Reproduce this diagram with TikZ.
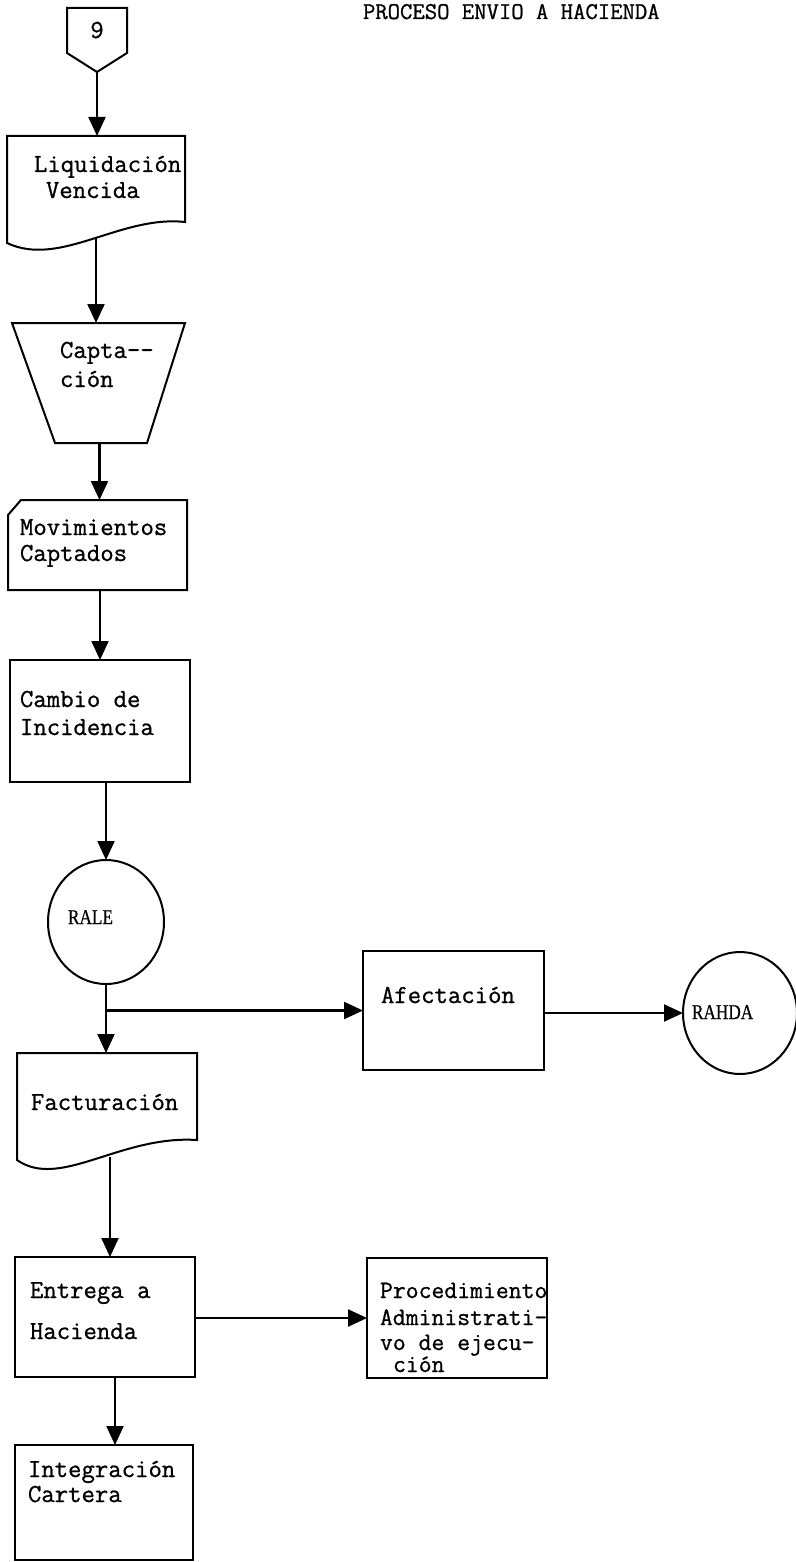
\documentclass[tikz,border=0pt]{standalone}
\usepackage{fontspec}
\usetikzlibrary{arrows.meta,shapes.geometric}
\newfontfamily\tw{Latin Modern Mono}[FakeBold=0.9]
\newfontfamily\sr{Liberation Serif}[FakeBold=0.6]
\tikzset{
  shp/.style={draw=black, line width=2pt, line join=miter},
  hidden/.style={rectangle, inner sep=0pt, outer sep=0pt},
  boxnode/.style={rectangle, draw=black, line width=2pt, inner sep=0pt, outer sep=0pt},
  ovalnode/.style={ellipse, draw=black, line width=2pt, inner sep=0pt, outer sep=0pt},
  txt/.style={font=\tw\fontsize{26pt}{28pt}\selectfont, anchor=base west, inner sep=0pt, outer sep=0pt},
  smalltxt/.style={font=\tw\fontsize{25pt}{28pt}\selectfont, anchor=base west, inner sep=0pt, outer sep=0pt},
  sertxt/.style={font=\sr\fontsize{21pt}{22pt}\selectfont, anchor=base west, inner sep=0pt, outer sep=0pt, xscale=0.82},
  flow/.style={draw=black, line width=2.2pt, -{Triangle[length=19pt,width=17pt]}},
}
\begin{document}
\begin{tikzpicture}[x=1pt,y=-1pt]
\useasboundingbox (0,0) rectangle (795,1562);
\fill[white] (0,0) rectangle (795,1562);

% title
\node[txt, font=\tw\fontsize{24pt}{26pt}\selectfont] (title) at (363,19) {PROCESO ENVIO A HACIENDA};

% off-page connector 9
\node[hidden, minimum width=60pt, minimum height=64pt] (c9) at (97,40) {};
\draw[shp] (c9.north west) -- (c9.north east) -- ([yshift=19pt]c9.south east) -- (c9.south) -- ([yshift=19pt]c9.south west) -- cycle;
\node[txt, anchor=base] (t9) at (97,38) {9};

% Liquidacion Vencida (document)
\node[hidden, minimum width=178pt, minimum height=102pt] (liq) at (96,187) {};
\draw[shp] ([yshift=-5pt]liq.south west) -- (liq.north west) -- (liq.north east) -- ([yshift=16pt]liq.south east)
  .. controls ([shift={(-65pt,23pt)}]liq.south east) and ([shift={(53pt,-30pt)}]liq.south west) .. ([yshift=-5pt]liq.south west) -- cycle;
\node[txt] (tliq1) at (34,172) {Liquidación};
\node[txt] (tliq2) at (46,198) {Vencida};

% Captacion (manual operation)
\node[hidden, minimum width=173pt, minimum height=120pt] (capt) at (98.5,383) {};
\draw[shp] (capt.north west) -- (capt.north east) -- ([xshift=-38pt]capt.south east) -- ([xshift=43pt]capt.south west) -- cycle;
\node[txt] (tcap1) at (60,358) {Capta--};
\node[txt] (tcap2) at (60,387) {ción};

% Movimientos Captados (card)
\node[hidden, minimum width=179pt, minimum height=90pt] (mov) at (97.5,545) {};
\draw[shp] (mov.south west) -- ([yshift=-15pt]mov.north west) -- ([xshift=13pt]mov.north west) -- (mov.north east) -- (mov.south east) -- cycle;
\node[txt] (tmov1) at (20,535) {Movimientos};
\node[txt] (tmov2) at (20,561) {Captados};

% Cambio de Incidencia
\node[boxnode, minimum width=180pt, minimum height=122pt] (cambio) at (100,721) {};
\node[txt] (tcam1) at (20,707) {Cambio de};
\node[txt] (tcam2) at (20,735) {Incidencia};

% RALE
\node[ovalnode, minimum width=116pt, minimum height=124pt] (rale) at (106,922) {};
\node[sertxt] (trale) at (68,924) {RALE};

% Afectacion
\node[boxnode, minimum width=181pt, minimum height=119pt] (afect) at (453.5,1010.5) {};
\node[txt] (tafe) at (381,1003) {Afectación};

% RAHDA
\node[ovalnode, minimum width=114pt, minimum height=122pt] (rahda) at (740,1013) {};
\node[sertxt] (trahda) at (692,1019) {RAHDA};

% Facturacion (document)
\node[hidden, minimum width=180pt, minimum height=104pt] (fact) at (107,1105) {};
\draw[shp] ([yshift=-3pt]fact.south west) -- (fact.north west) -- (fact.north east) -- ([yshift=17pt]fact.south east)
  .. controls ([shift={(-77pt,22pt)}]fact.south east) and ([shift={(43pt,-33pt)}]fact.south west) .. ([yshift=-3pt]fact.south west) -- cycle;
\node[txt] (tfac) at (31,1110) {Facturación};

% Entrega a Hacienda
\node[boxnode, minimum width=180pt, minimum height=120pt] (entrega) at (105,1317) {};
\node[txt] (tent1) at (30,1298) {Entrega a};
\node[txt] (tent2) at (30,1339) {Hacienda};

% Procedimiento Administrativo de ejecucion
\node[boxnode, minimum width=180pt, minimum height=120pt] (proc) at (457,1318) {};
\node[smalltxt] (tpro1) at (380,1298) {Procedimiento};
\node[smalltxt] (tpro2) at (380,1325) {Administrati-};
\node[smalltxt] (tpro3) at (380,1350) {vo de ejecu-};
\node[smalltxt] (tpro4) at (393,1372) {ción};

% Integracion Cartera
\node[boxnode, minimum width=178pt, minimum height=115pt] (integ) at (104,1502.5) {};
\node[txt] (tint1) at (28,1477) {Integración};
\node[txt] (tint2) at (28,1502) {Cartera};

% connectors
\draw[flow] (c9.south) -- (c9.south |- liq.north);
\draw[flow] (liq.south) -- (liq.south |- capt.north);
\draw[flow] ([xshift=1pt]capt.south) -- ([xshift=1pt]capt.south |- mov.north);
\draw[flow] (cambio.north |- mov.south) -- (cambio.north);
\draw[flow] (rale.north |- cambio.south) -- (rale.north);
\draw[flow] (rale.south) -- (rale.south |- fact.north);
\coordinate (branch) at (rale.south |- afect.west);
\draw[flow] (branch) -- (afect.west);
\draw[flow] (afect.east |- rahda.west) -- (rahda.west);
\draw[flow] ([xshift=3pt]fact.south) -- ([xshift=3pt]fact.south |- entrega.north);
\draw[flow] (entrega.east |- proc.west) -- (proc.west);
\draw[flow] ([xshift=10pt]entrega.south) -- ([xshift=10pt]entrega.south |- integ.north);
\end{tikzpicture}
\end{document}
